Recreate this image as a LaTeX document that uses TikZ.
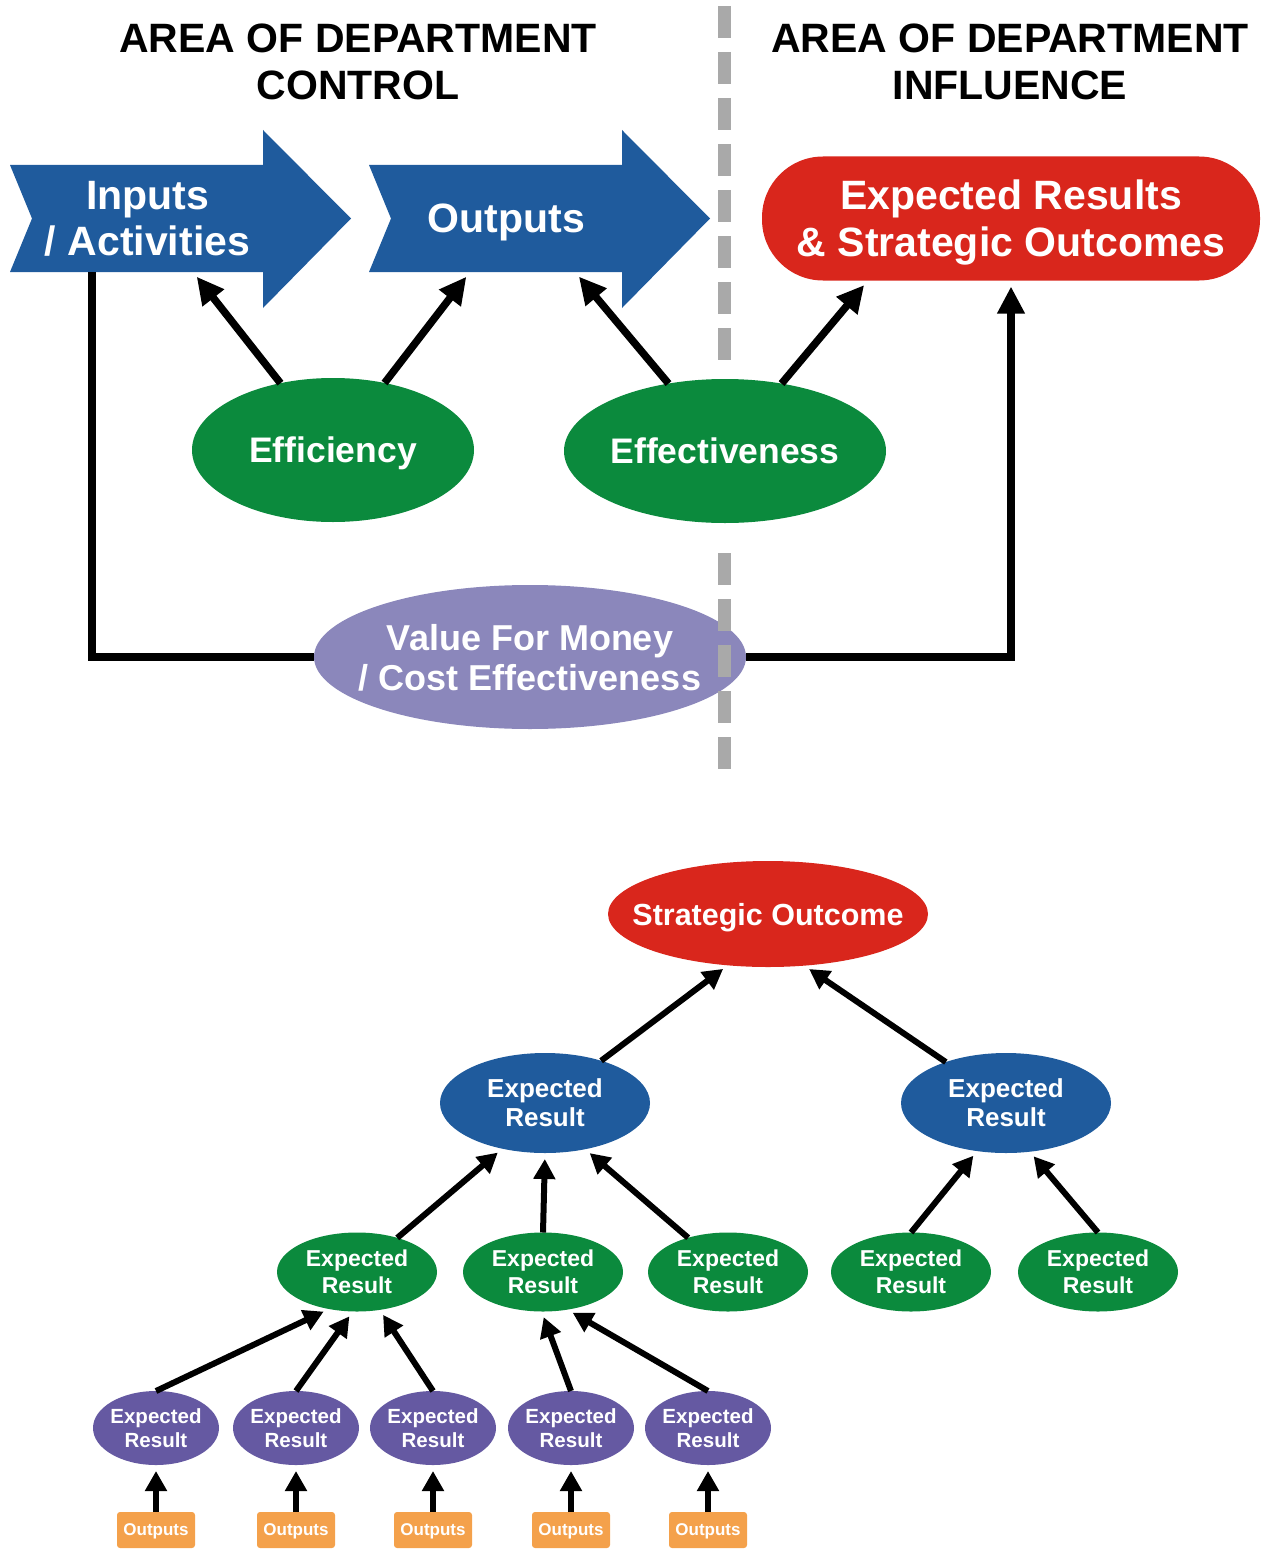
\documentclass[tikz,border=0pt]{standalone}
\usepackage{fontspec}
\setmainfont{Liberation Sans}
\usepackage{xcolor}
\usepackage{tikz}
\usetikzlibrary{shapes.geometric,arrows.meta,calc,backgrounds}

\definecolor{arrowblue}{HTML}{1F5B9D}
\definecolor{resultred}{HTML}{D9261C}
\definecolor{effgreen}{HTML}{0B8A3D}
\definecolor{vfmlilac}{HTML}{8B87BB}
\definecolor{erpurple}{HTML}{6559A2}
\definecolor{outorange}{HTML}{F4A14B}
\definecolor{dashgrey}{HTML}{A9A9A9}

\newcommand{\ftsz}[2]{\fontsize{#1}{#2}\selectfont\bfseries}

\begin{document}
\begin{tikzpicture}[
  x=1pt, y=-1pt,
  every node/.style={text=white, align=center, text depth=0pt, outer sep=0pt},
  title/.style={text=black, font=\ftsz{41}{47}},
  body/.style={rectangle, minimum width=231pt, minimum height=107pt, inner sep=0pt, font=\ftsz{41}{46}},
  result/.style={rectangle, rounded corners=61pt, fill=resultred, minimum width=498pt, minimum height=124pt, inner sep=0pt, font=\ftsz{41}{47}},
  oval/.style={ellipse, inner xsep=-30pt, inner ysep=0pt},
  measure/.style={oval, fill=effgreen, minimum height=144pt, font=\ftsz{35.5}{40}},
  vfm/.style={oval, fill=vfmlilac, minimum width=432pt, minimum height=144pt, font=\ftsz{36}{40}},
  outcome/.style={oval, fill=resultred, minimum width=320pt, minimum height=106pt, font=\ftsz{30.5}{36}},
  blueres/.style={oval, fill=arrowblue, minimum width=210pt, minimum height=100pt, font=\ftsz{26}{29}},
  greenres/.style={oval, fill=effgreen, minimum width=160pt, minimum height=79pt, font=\ftsz{23}{27}},
  purpleres/.style={oval, fill=erpurple, minimum width=126pt, minimum height=74pt, font=\ftsz{20.5}{24}},
  outbox/.style={rectangle, rounded corners=3pt, fill=outorange, minimum width=78pt, minimum height=36pt, inner sep=0pt, font=\ftsz{17}{20}},
  arrow/.style={-{Triangle[length=27pt, width=26pt]}, line width=7.5pt, shorten >=6pt},
  link/.style={line width=7.5pt, line join=miter},
  treearrow/.style={-{Triangle[length=20pt, width=21pt]}, line width=6pt, shorten >=6pt},
  divider/.style={dashgrey, line width=13pt, dash pattern=on 32pt off 14pt}
]
\useasboundingbox (0,0) rectangle (1264,1549);

% Headings
\node[title] (ctrl) at (358,62) {AREA OF DEPARTMENT\\CONTROL};
\node[title] (infl) at (1010,62) {AREA OF DEPARTMENT\\INFLUENCE};

% Results chain
\node[body] (inputs) at (147.5,218.5) {Inputs\\/ Activities};
\node[body] (outputs) at (506.5,218.5) {Outputs};
\node[result] (res) at (1011,218.5) {Expected Results\\\& Strategic Outcomes};

\begin{scope}[on background layer]
\fill[arrowblue] ($(inputs.north west)+(-22,0)$) -- (inputs.north east) -- ++(0,-35)
  -- ($(inputs.east)+(88,0)$) -- ($(inputs.south east)+(0,36)$) -- (inputs.south east)
  -- ($(inputs.south west)+(-22,0)$) -- (inputs.west) -- cycle;
\fill[arrowblue] ($(outputs.north west)+(-22,0)$) -- (outputs.north east) -- ++(0,-35)
  -- ($(outputs.east)+(88,0)$) -- ($(outputs.south east)+(0,36)$) -- (outputs.south east)
  -- ($(outputs.south west)+(-22,0)$) -- (outputs.west) -- cycle;
\end{scope}

% Measures
\node[measure, minimum width=282pt] (eff) at (333,450) {Efficiency};
\node[measure, minimum width=322pt] (efv) at (725,451) {Effectiveness};
\node[vfm] (vfm) at (530,657) {Value For Money\\/ Cost Effectiveness};

\coordinate (inA) at ($(inputs.south)+(45.5,0)$);
\coordinate (outA) at ($(outputs.south)+(-36.5,0)$);
\coordinate (outB) at ($(outputs.south)+(68.5,0)$);
\coordinate (resA) at ($(res.south)+(-143,0)$);

% Flow arrows - top
\draw[arrow] (eff) -- (inA);
\draw[arrow] (eff) -- (outA);
\draw[arrow] (efv) -- (outB);
\draw[arrow] (efv) -- (resA);
\draw[link] ($(inputs.south west)+(60,0)$) |- (vfm.west);
\draw[arrow] (vfm.east) -| (res.south);

% Control / influence border
\draw[divider] (724,6) -- (724,360);
\draw[divider] (724,553) -- (724,770);

% Outcome tree
\node[outcome] (so) at (768,914) {Strategic Outcome};
\node[blueres] (erL) at (545,1103) {Expected\\Result};
\node[blueres] (erR) at (1006,1103) {Expected\\Result};

\node[greenres] (er1) at (357,1272) {Expected\\Result};
\node[greenres] (er2) at (543,1272) {Expected\\Result};
\node[greenres] (er3) at (728,1272) {Expected\\Result};
\node[greenres] (er4) at (911,1272) {Expected\\Result};
\node[greenres] (er5) at (1098,1272) {Expected\\Result};

\node[purpleres] (sub1) at (156,1428) {Expected\\Result};
\node[purpleres] (sub2) at (296,1428) {Expected\\Result};
\node[purpleres] (sub3) at (433,1428) {Expected\\Result};
\node[purpleres] (sub4) at (571,1428) {Expected\\Result};
\node[purpleres] (sub5) at (708,1428) {Expected\\Result};

\node[outbox] (out1) at (156,1530) {Outputs};
\node[outbox] (out2) at (296,1530) {Outputs};
\node[outbox] (out3) at (433,1530) {Outputs};
\node[outbox] (out4) at (571,1530) {Outputs};
\node[outbox] (out5) at (708,1530) {Outputs};

% Flow arrows - tree
\draw[treearrow] (erL) -- (so.232);
\draw[treearrow] (erR) -- (so.305);
\draw[treearrow] (er1) -- (erL.227);
\draw[treearrow] (er2.north) -- (erL.south);
\draw[treearrow] (er3) -- (erL.311);
\draw[treearrow] (er4.north) -- (erR.239);
\draw[treearrow] (er5.north) -- (erR.296);
\draw[treearrow] (sub1.north) -- (er1.233);
\draw[treearrow] (sub2.north) -- (er1.264);
\draw[treearrow] (sub3.north) -- (er1.301);
\draw[treearrow] (sub4.north) -- (er2.268);
\draw[treearrow] (sub5.north) -- (er2.303);
\draw[treearrow] (out1) -- (sub1);
\draw[treearrow] (out2) -- (sub2);
\draw[treearrow] (out3) -- (sub3);
\draw[treearrow] (out4) -- (sub4);
\draw[treearrow] (out5) -- (sub5);

\end{tikzpicture}
\end{document}
